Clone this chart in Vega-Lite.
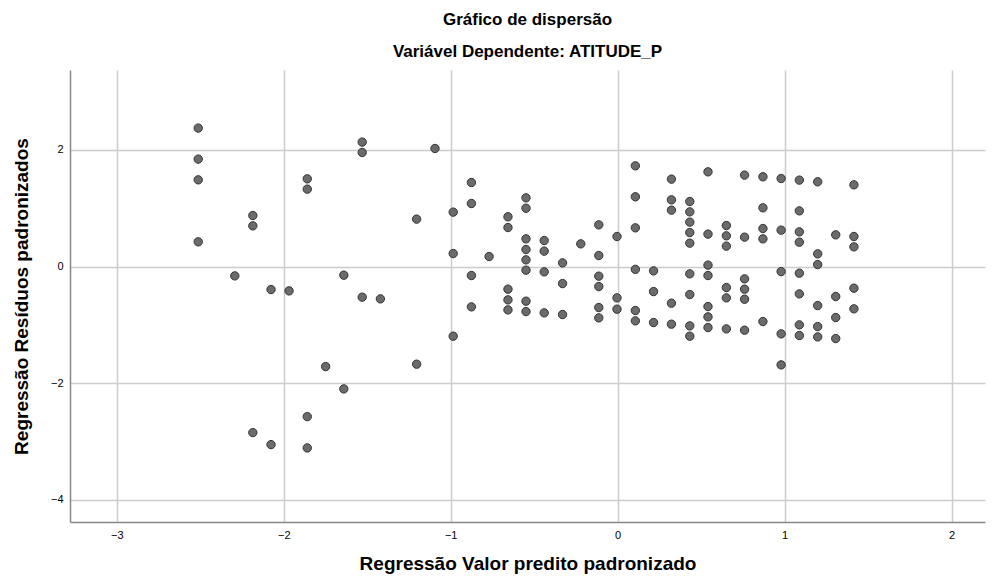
{
  "$schema": "https://vega.github.io/schema/vega-lite/v6.json",
  "width": 915,
  "height": 452,
  "autosize": {"type": "none"},
  "padding": {"left": 70, "top": 70, "right": 7, "bottom": 63},
  "background": "white",
  "title": {
    "text": "Gráfico de dispersão",
    "subtitle": "Variável Dependente: ATITUDE_P",
    "anchor": "middle",
    "font": "Liberation Sans",
    "fontSize": 17,
    "fontWeight": "bold",
    "color": "#000000",
    "subtitleFont": "Liberation Sans",
    "subtitleFontSize": 17,
    "subtitleFontWeight": "bold",
    "subtitleColor": "#000000",
    "subtitlePadding": 15,
    "offset": 9
  },
  "config": {
    "view": {"stroke": null},
    "axis": {
      "labelFont": "Liberation Sans",
      "labelFontSize": 11,
      "labelColor": "#000000",
      "titleFont": "Liberation Sans",
      "titleFontSize": 19,
      "titleFontWeight": "bold",
      "titleColor": "#000000",
      "gridColor": "#cccccc",
      "gridWidth": 1.5,
      "domainColor": "#888888",
      "domainWidth": 1.5,
      "ticks": false,
      "labelPadding": 7
    }
  },
  "data": {
    "values": [
      {"x": -2.512, "y": 2.374}, {"x": -2.512, "y": 1.842}, {"x": -2.512, "y": 1.487}, {"x": -2.512, "y": 0.424},
      {"x": -2.293, "y": -0.16},
      {"x": -2.185, "y": 0.875}, {"x": -2.185, "y": 0.698}, {"x": -2.185, "y": -2.847},
      {"x": -2.076, "y": -0.394}, {"x": -2.076, "y": -3.053},
      {"x": -1.968, "y": -0.417},
      {"x": -1.859, "y": 1.504}, {"x": -1.859, "y": 1.327}, {"x": -1.859, "y": -2.573}, {"x": -1.859, "y": -3.11},
      {"x": -1.749, "y": -1.715},
      {"x": -1.64, "y": -0.148}, {"x": -1.64, "y": -2.098},
      {"x": -1.53, "y": 2.134}, {"x": -1.53, "y": 1.956}, {"x": -1.53, "y": -0.525},
      {"x": -1.421, "y": -0.554},
      {"x": -1.204, "y": 0.813}, {"x": -1.204, "y": -1.674},
      {"x": -1.094, "y": 2.024},
      {"x": -0.985, "y": 0.933}, {"x": -0.985, "y": 0.223}, {"x": -0.985, "y": -1.194},
      {"x": -0.876, "y": 1.441}, {"x": -0.876, "y": 1.081}, {"x": -0.876, "y": -0.154}, {"x": -0.876, "y": -0.691},
      {"x": -0.77, "y": 0.172},
      {"x": -0.657, "y": 0.853}, {"x": -0.657, "y": 0.669}, {"x": -0.657, "y": -0.388}, {"x": -0.657, "y": -0.571}, {"x": -0.657, "y": -0.743},
      {"x": -0.549, "y": 1.178}, {"x": -0.549, "y": 1.0}, {"x": -0.549, "y": 0.475}, {"x": -0.549, "y": 0.292}, {"x": -0.549, "y": 0.115}, {"x": -0.549, "y": -0.062}, {"x": -0.549, "y": -0.594}, {"x": -0.549, "y": -0.772},
      {"x": -0.44, "y": 0.446}, {"x": -0.44, "y": 0.264}, {"x": -0.44, "y": -0.091}, {"x": -0.44, "y": -0.794},
      {"x": -0.33, "y": 0.063}, {"x": -0.33, "y": -0.292}, {"x": -0.33, "y": -0.823},
      {"x": -0.221, "y": 0.389},
      {"x": -0.113, "y": 0.715}, {"x": -0.113, "y": 0.189}, {"x": -0.113, "y": -0.165}, {"x": -0.113, "y": -0.343}, {"x": -0.113, "y": -0.703}, {"x": -0.113, "y": -0.88},
      {"x": -0.004, "y": 0.515}, {"x": -0.004, "y": -0.537}, {"x": -0.004, "y": -0.731},
      {"x": 0.106, "y": 1.727}, {"x": 0.106, "y": 1.196}, {"x": 0.106, "y": 0.664}, {"x": 0.106, "y": -0.048}, {"x": 0.106, "y": -0.754}, {"x": 0.106, "y": -0.931},
      {"x": 0.215, "y": -0.074}, {"x": 0.215, "y": -0.429}, {"x": 0.215, "y": -0.96},
      {"x": 0.322, "y": 1.499}, {"x": 0.322, "y": 1.144}, {"x": 0.322, "y": 0.967}, {"x": 0.322, "y": -0.628}, {"x": 0.322, "y": -0.988},
      {"x": 0.432, "y": 1.115}, {"x": 0.432, "y": 0.938}, {"x": 0.432, "y": 0.761}, {"x": 0.432, "y": 0.583}, {"x": 0.432, "y": 0.401}, {"x": 0.432, "y": -0.125}, {"x": 0.432, "y": -0.48}, {"x": 0.432, "y": -1.017}, {"x": 0.432, "y": -1.194},
      {"x": 0.541, "y": 1.624}, {"x": 0.541, "y": 0.556}, {"x": 0.541, "y": 0.024}, {"x": 0.541, "y": -0.154}, {"x": 0.541, "y": -0.686}, {"x": 0.541, "y": -0.863}, {"x": 0.541, "y": -1.046},
      {"x": 0.651, "y": 0.703}, {"x": 0.651, "y": 0.527}, {"x": 0.651, "y": 0.35}, {"x": 0.651, "y": -0.36}, {"x": 0.651, "y": -0.537}, {"x": 0.651, "y": -1.069},
      {"x": 0.76, "y": 1.568}, {"x": 0.76, "y": 0.504}, {"x": 0.76, "y": -0.211}, {"x": 0.76, "y": -0.388}, {"x": 0.76, "y": -0.56}, {"x": 0.76, "y": -1.091},
      {"x": 0.87, "y": 1.539}, {"x": 0.87, "y": 1.007}, {"x": 0.87, "y": 0.652}, {"x": 0.87, "y": 0.475}, {"x": 0.87, "y": -0.943},
      {"x": 0.979, "y": 1.51}, {"x": 0.979, "y": 0.624}, {"x": 0.979, "y": -0.086}, {"x": 0.979, "y": -1.154}, {"x": 0.979, "y": -1.686},
      {"x": 1.088, "y": 1.482}, {"x": 1.088, "y": 0.955}, {"x": 1.088, "y": 0.595}, {"x": 1.088, "y": 0.418}, {"x": 1.088, "y": -0.114}, {"x": 1.088, "y": -0.469}, {"x": 1.088, "y": -1.0}, {"x": 1.088, "y": -1.183},
      {"x": 1.198, "y": 1.453}, {"x": 1.198, "y": 0.218}, {"x": 1.198, "y": 0.034}, {"x": 1.198, "y": -0.669}, {"x": 1.198, "y": -1.029}, {"x": 1.198, "y": -1.206},
      {"x": 1.306, "y": 0.544}, {"x": 1.306, "y": -0.514}, {"x": 1.306, "y": -0.874}, {"x": 1.306, "y": -1.235},
      {"x": 1.415, "y": 1.401}, {"x": 1.415, "y": 0.515}, {"x": 1.415, "y": 0.338}, {"x": 1.415, "y": -0.371}, {"x": 1.415, "y": -0.725}
    ]
  },
  "mark": {"type": "point", "shape": "circle", "filled": true, "size": 70, "fill": "#6b6b6b", "stroke": "#333333", "strokeWidth": 1, "opacity": 1},
  "encoding": {
    "x": {
      "field": "x", "type": "quantitative",
      "scale": {"domain": [-3.28, 2.2], "nice": false, "zero": false},
      "axis": {"values": [-3, -2, -1, 0, 1, 2], "title": "Regressão Valor predito padronizado", "titlePadding": 14}
    },
    "y": {
      "field": "y", "type": "quantitative",
      "scale": {"domain": [-4.38, 3.37], "nice": false, "zero": false},
      "axis": {"values": [-4, -2, 0, 2], "title": "Regressão Resíduos padronizados", "titlePadding": 19}
    }
  }
}
